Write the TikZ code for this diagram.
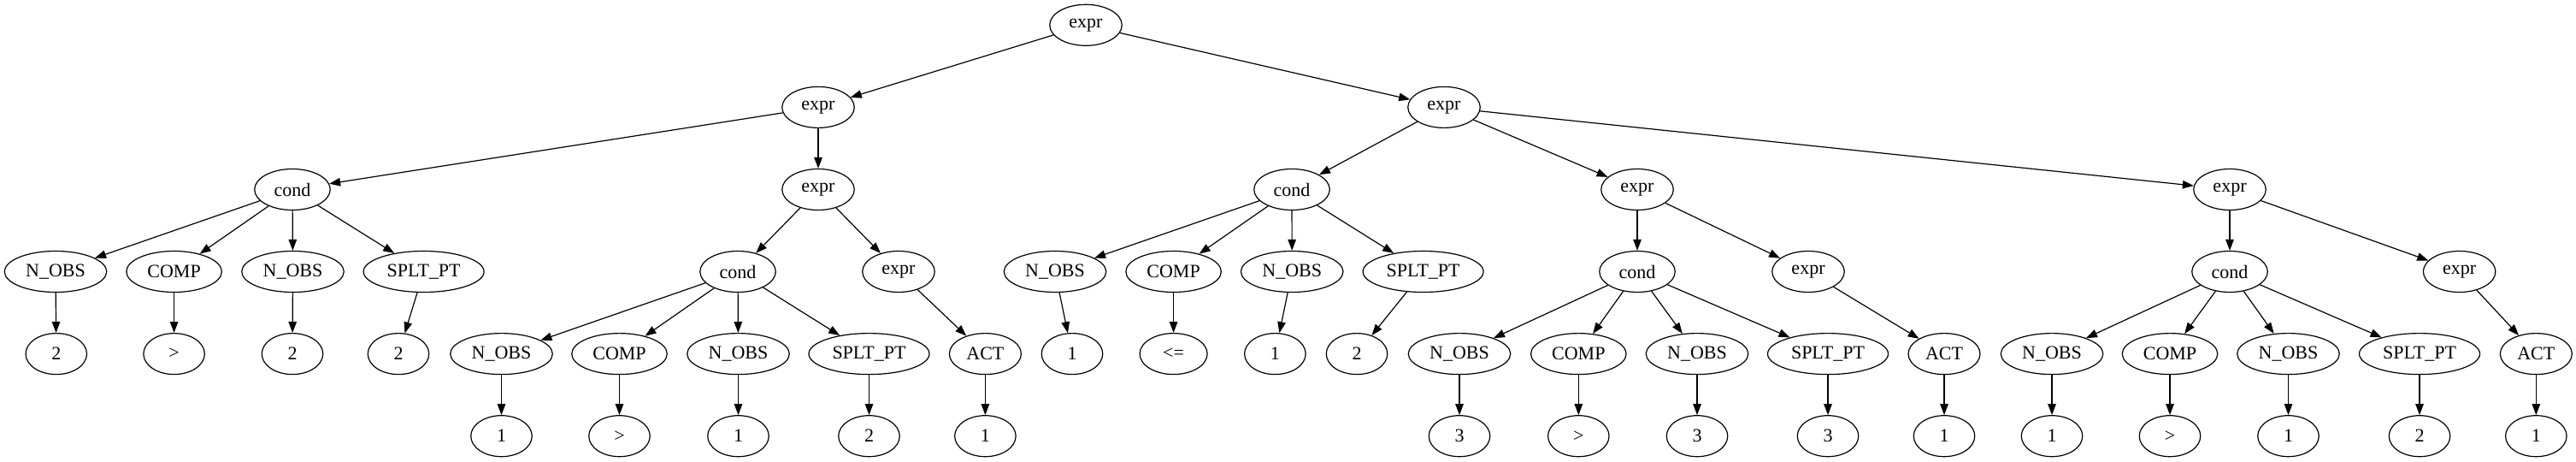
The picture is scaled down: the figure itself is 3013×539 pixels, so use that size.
\documentclass[tikz,border=0pt]{standalone}
\usepackage{fontspec}
\setmainfont{Liberation Serif}
\usetikzlibrary{shapes.geometric,arrows.meta}
\begin{document}
\begin{tikzpicture}[x=1pt,y=-1pt,
  nd/.style={ellipse,draw,line width=1.2pt,minimum height=48pt,inner sep=0pt,
    font=\fontsize{22}{26}\selectfont},
  nobs/.style={nd,minimum width=119.5pt},
  comp/.style={nd,minimum width=111.5pt},
  splt/.style={nd,minimum width=141pt},
  ex/.style={nd,minimum width=84.5pt},
  cnd/.style={nd,minimum width=88.5pt},
  act/.style={nd,minimum width=84pt},
  num/.style={nd,minimum width=71.5pt},
  le/.style={nd,minimum width=79pt},
  ed/.style={line width=1.2pt,-{Triangle[length=13pt,width=9.5pt]}}]
\useasboundingbox (0,0) rectangle (3013,539);
% row 0
\node[ex] (r) at (1270,29.3) {expr};
% row 1
\node[ex] (a) at (957,125.4) {expr};
\node[ex] (b) at (1689,125.4) {expr};
% row 2
\node[cnd] (a1) at (342,221.5) {cond};
\node[ex] (a2) at (957,221.5) {expr};
\node[cnd] (b1) at (1511,221.5) {cond};
\node[ex] (b2) at (1915,221.5) {expr};
\node[ex] (b3) at (2608,221.5) {expr};
% row 3
\node[nobs] (a1a) at (65,317.5) {N\_OBS};
\node[comp] (a1b) at (203.6,317.5) {COMP};
\node[nobs] (a1c) at (342.5,317.5) {N\_OBS};
\node[splt] (a1d) at (495.6,317.5) {SPLT\_PT};
\node[cnd] (a2a) at (863,317.5) {cond};
\node[ex] (a2b) at (1051,317.5) {expr};
\node[nobs] (b1a) at (1234,317.5) {N\_OBS};
\node[comp] (b1b) at (1372.6,317.5) {COMP};
\node[nobs] (b1c) at (1511.2,317.5) {N\_OBS};
\node[splt] (b1d) at (1664.6,317.5) {SPLT\_PT};
\node[cnd] (b2a) at (1915,317.5) {cond};
\node[ex] (b2b) at (2115,317.5) {expr};
\node[cnd] (b3a) at (2608,317.5) {cond};
\node[ex] (b3b) at (2876.6,317.5) {expr};
% row 4
\node[num] (a1a1) at (65.8,413.6) {2};
\node[num] (a1b1) at (203.6,413.6) {>};
\node[num] (a1c1) at (342,413.6) {2};
\node[num] (a1d1) at (466,413.6) {2};
\node[nobs] (a2a1) at (586.5,413.6) {N\_OBS};
\node[comp] (a2a2) at (724.5,413.6) {COMP};
\node[nobs] (a2a3) at (863.5,413.6) {N\_OBS};
\node[splt] (a2a4) at (1016.5,413.6) {SPLT\_PT};
\node[act] (a2b1) at (1152.4,413.6) {ACT};
\node[num] (b1a1) at (1254,413.6) {1};
\node[le] (b1b1) at (1372.6,413.6) {<=};
\node[num] (b1c1) at (1491.4,413.6) {1};
\node[num] (b1d1) at (1587,413.6) {2};
\node[nobs] (b2a1) at (1707,413.6) {N\_OBS};
\node[comp] (b2a2) at (1846.3,413.6) {COMP};
\node[nobs] (b2a3) at (1985,413.6) {N\_OBS};
\node[splt] (b2a4) at (2138,413.6) {SPLT\_PT};
\node[act] (b2b1) at (2274,413.6) {ACT};
\node[nobs] (b3a1) at (2400,413.6) {N\_OBS};
\node[comp] (b3a2) at (2538,413.6) {COMP};
\node[nobs] (b3a3) at (2676.5,413.6) {N\_OBS};
\node[splt] (b3a4) at (2830,413.6) {SPLT\_PT};
\node[act] (b3b1) at (2966.3,413.6) {ACT};
% row 5
\node[num] (a2a1x) at (586.5,509.7) {1};
\node[num] (a2a2x) at (724.5,509.7) {>};
\node[num] (a2a3x) at (863.5,509.7) {1};
\node[num] (a2a4x) at (1016.5,509.7) {2};
\node[num] (a2b1x) at (1152.4,509.7) {1};
\node[num] (b2a1x) at (1707,509.7) {3};
\node[num] (b2a2x) at (1846.3,509.7) {>};
\node[num] (b2a3x) at (1985,509.7) {3};
\node[num] (b2a4x) at (2138,509.7) {3};
\node[num] (b2b1x) at (2274,509.7) {1};
\node[num] (b3a1x) at (2400,509.7) {1};
\node[num] (b3a2x) at (2538,509.7) {>};
\node[num] (b3a3x) at (2676.5,509.7) {1};
\node[num] (b3a4x) at (2830,509.7) {2};
\node[num] (b3b1x) at (2966.3,509.7) {1};
% edges
\foreach \p/\c in {r/a,r/b,a/a1,a/a2,b/b1,b/b2,b/b3,
  a1/a1a,a1/a1b,a1/a1c,a1/a1d,a2/a2a,a2/a2b,
  b1/b1a,b1/b1b,b1/b1c,b1/b1d,b2/b2a,b2/b2b,b3/b3a,b3/b3b,
  a1a/a1a1,a1b/a1b1,a1c/a1c1,a1d/a1d1,
  a2a/a2a1,a2a/a2a2,a2a/a2a3,a2a/a2a4,a2b/a2b1,
  b1a/b1a1,b1b/b1b1,b1c/b1c1,b1d/b1d1,
  b2a/b2a1,b2a/b2a2,b2a/b2a3,b2a/b2a4,b2b/b2b1,
  b3a/b3a1,b3a/b3a2,b3a/b3a3,b3a/b3a4,b3b/b3b1,
  a2a1/a2a1x,a2a2/a2a2x,a2a3/a2a3x,a2a4/a2a4x,a2b1/a2b1x,
  b2a1/b2a1x,b2a2/b2a2x,b2a3/b2a3x,b2a4/b2a4x,b2b1/b2b1x,
  b3a1/b3a1x,b3a2/b3a2x,b3a3/b3a3x,b3a4/b3a4x,b3b1/b3b1x}
  \draw[ed] (\p) -- (\c);
\end{tikzpicture}
\end{document}
